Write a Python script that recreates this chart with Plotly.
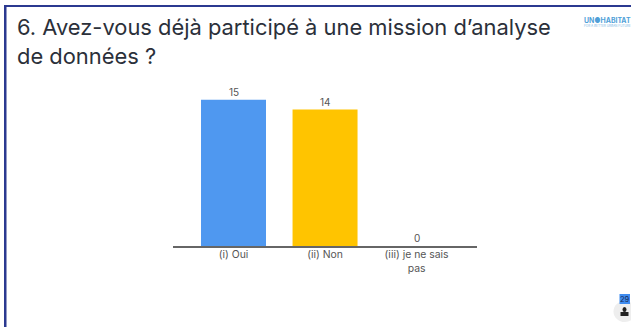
import plotly.graph_objects as go

categories = ["(i) Oui", "(ii) Non", "(iii) je ne sais<br>pas"]
values = [15, 14, 0]
colors = ["#4f98f0", "#ffc400"]
bar_colors = [colors[0], colors[1], colors[0]]
title_lines = ["6. Avez-vous déjà participé à une mission d’analyse", "de données ?"]
logo_main = "UN●HABITAT"
logo_sub = "FOR A BETTER URBAN FUTURE"
badge = "29"

W, H = 631, 327
FONT = "Inter, 'Open Sans', sans-serif"


def px(x):
    return x / W


def py(y):
    return 1 - y / H


fig = go.Figure(
    go.Bar(
        x=categories,
        y=values,
        marker=dict(color=bar_colors, line=dict(width=0)),
        width=0.71,
        hoverinfo="skip",
    )
)

annotations = [
    dict(text=str(v), x=c, y=v, xref="x", yref="y", xanchor="center", yanchor="bottom",
         yshift=0, showarrow=False, font=dict(family=FONT, size=10, color="#555555"))
    for c, v in zip(categories, values)
]
annotations += [
    dict(text=title_lines[0], x=px(15), y=py(27), xref="paper", yref="paper", xanchor="left", yanchor="middle",
         showarrow=False, font=dict(family=FONT, size=21.9, color="#2b303a")),
    dict(text=title_lines[1], x=px(15), y=py(56), xref="paper", yref="paper", xanchor="left", yanchor="middle",
         showarrow=False, font=dict(family=FONT, size=21.9, color="#2b303a")),
    dict(text=f"<b>{logo_main}</b>", x=px(582), y=py(20.5), xref="paper", yref="paper", xanchor="left", yanchor="middle",
         showarrow=False, font=dict(family=FONT, size=6.9, color="#4f9fd8")),
    dict(text=logo_sub, x=px(582), y=py(26), xref="paper", yref="paper", xanchor="left", yanchor="middle",
         showarrow=False, font=dict(family=FONT, size=3.1, color="#7fbbe4")),
    dict(text=badge, x=px(624.7), y=py(299), xref="paper", yref="paper", xanchor="center", yanchor="middle",
         showarrow=False, font=dict(family=FONT, size=7.5, color="#1a2a50")),
]

fig.update_layout(
    width=W,
    height=H,
    margin=dict(l=0, r=0, t=0, b=0),
    paper_bgcolor="white",
    plot_bgcolor="white",
    showlegend=False,
    xaxis=dict(
        domain=[px(173), px(477)],
        type="category",
        range=[-0.661, 2.66],
        showgrid=False,
        showline=True,
        linecolor="#666666",
        linewidth=1.5,
        ticks="",
        ticklabelstandoff=-2,
        tickfont=dict(family=FONT, size=10.4, color="#555555"),
        anchor="y",
    ),
    yaxis=dict(
        domain=[py(246), py(90)],
        range=[0, 16],
        visible=False,
    ),
    shapes=[
        dict(type="rect", xref="paper", yref="paper", x0=px(4), x1=px(631), y0=py(7), y1=py(5),
             fillcolor="#2b3990", line_width=0),
        dict(type="rect", xref="paper", yref="paper", x0=px(4), x1=px(6.5), y0=py(327), y1=py(5),
             fillcolor="#2b3990", line_width=0),
        dict(type="circle", xref="paper", yref="paper", x0=px(613.5), x1=px(636), y0=py(322), y1=py(301),
             fillcolor="#eeeeee", line_width=0),
        dict(type="rect", xref="paper", yref="paper", x0=px(619.5), x1=px(630), y0=py(304), y1=py(294),
             fillcolor="#3f8cf0", line_width=0),
        dict(type="circle", xref="paper", yref="paper", x0=px(622.5), x1=px(626.5), y0=py(312), y1=py(307),
             fillcolor="#222222", line_width=0),
        dict(type="rect", xref="paper", yref="paper", x0=px(620.5), x1=px(628.5), y0=py(316), y1=py(312),
             fillcolor="#222222", line_width=0),
    ],
    annotations=annotations,
)

fig.write_html("out.html", config=dict(displayModeBar=False),
               post_script="document.body.style.margin='0';")
